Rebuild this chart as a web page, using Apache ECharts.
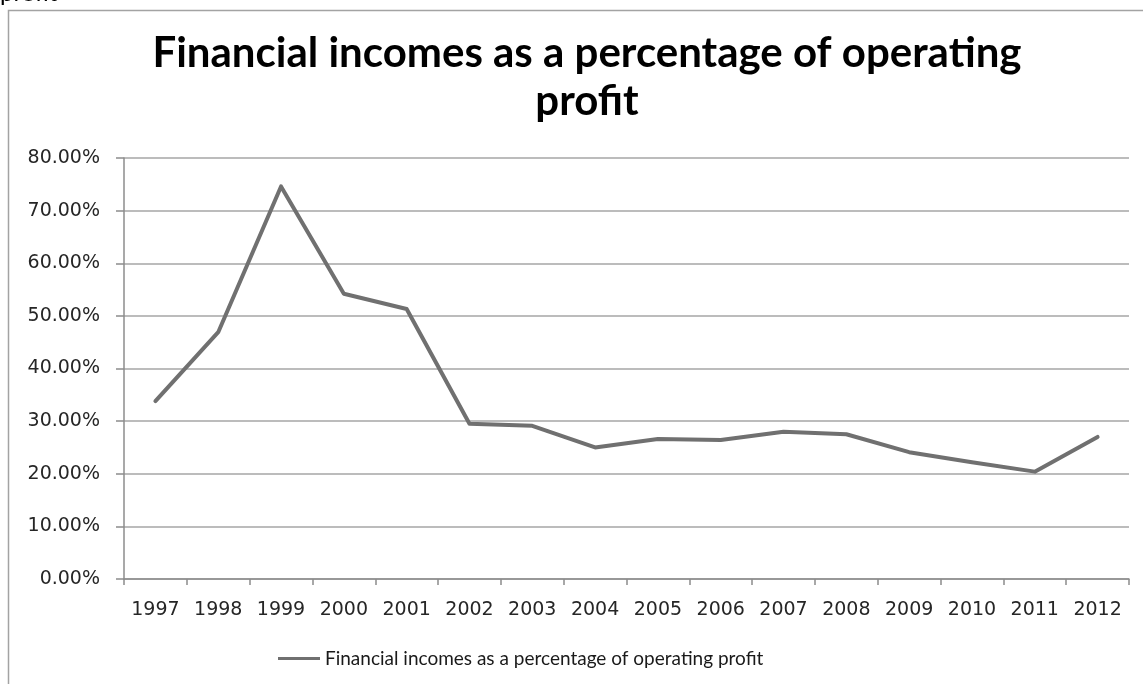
<!DOCTYPE html>
<html>
<head>
<meta charset="utf-8">
<title>Financial incomes as a percentage of operating profit</title>
<script src="https://cdn.jsdelivr.net/npm/echarts@6/dist/echarts.min.js"></script>
<style>
  html, body { margin: 0; padding: 0; background: #ffffff; }
  #chart { width: 1143px; height: 684px; }
</style>
</head>
<body>
<div id="chart"></div>
<script>
// Years on the category axis
const years = ['1997', '1998', '1999', '2000', '2001', '2002', '2003', '2004',
               '2005', '2006', '2007', '2008', '2009', '2010', '2011', '2012'];

// Financial incomes as a share of operating profit, in percent
const financialIncomeShare = [33.8, 46.9, 74.6, 54.2, 51.3, 29.5, 29.1, 25.0,
                              26.6, 26.4, 28.0, 27.5, 24.1, 22.2, 20.4, 27.0];

// Value axis range and step, in percent
const yMin = 0;
const yMax = 80;
const yStep = 10;

const seriesName = 'Financial incomes as a percentage of operating profit';
const titleText = 'Financial incomes as a percentage of operating\nprofit';

const chart = echarts.init(document.getElementById('chart'), null, { renderer: 'canvas' });

chart.setOption({
  backgroundColor: '#ffffff',
  animation: false,
  title: {
    text: titleText,
    left: 582,
    top: 24,
    textAlign: 'center',
    textStyle: {
      fontFamily: 'Lato',
      fontWeight: 'bold',
      fontSize: 42,
      lineHeight: 48,
      color: '#000000'
    }
  },
  graphic: [
    {
      // frame of the chart box
      type: 'rect',
      shape: { x: 8.5, y: 10.5, width: 2000, height: 2000 },
      style: { fill: 'none', stroke: '#a3a3a3', lineWidth: 1.5 },
      silent: true
    },
    {
      // tail of the surrounding page text above the chart box
      type: 'text',
      left: 0,
      top: -19,
      style: {
        text: 'profit',
        font: '24px Lato',
        fill: '#000000'
      },
      silent: true
    }
  ],
  legend: {
    left: 273,
    top: 644,
    itemWidth: 42,
    itemHeight: 14,
    icon: 'path://M0,6 L42,6 L42,9 L0,9 Z',
    textStyle: {
      fontFamily: 'Lato',
      fontSize: 19,
      color: '#1a1a1a'
    },
    data: [seriesName]
  },
  grid: {
    left: 124,
    right: 14,
    top: 158,
    bottom: 105,
    containLabel: false
  },
  xAxis: {
    type: 'category',
    data: years,
    boundaryGap: true,
    axisLine: { show: true, lineStyle: { color: '#8c8c8c', width: 1.5 } },
    axisTick: { show: true, length: 6, lineStyle: { color: '#8c8c8c', width: 1.5 } },
    axisLabel: {
      margin: 22,
      fontFamily: 'DejaVu Sans',
      fontSize: 19,
      color: '#262626',
      interval: 0
    },
    splitLine: { show: false }
  },
  yAxis: {
    type: 'value',
    min: yMin,
    max: yMax,
    interval: yStep,
    axisLine: { show: true, lineStyle: { color: '#8c8c8c', width: 1.5 } },
    axisTick: { show: true, length: 8, lineStyle: { color: '#8c8c8c', width: 1.5 } },
    axisLabel: {
      margin: 24,
      fontFamily: 'DejaVu Sans',
      fontSize: 19,
      color: '#262626',
      formatter: v => v.toFixed(2) + '%'
    },
    splitLine: { show: true, lineStyle: { color: '#a6a6a6', width: 1.5 } }
  },
  series: [
    {
      name: seriesName,
      type: 'line',
      data: financialIncomeShare,
      symbol: 'none',
      smooth: false,
      lineStyle: { color: '#707070', width: 4, cap: 'round', join: 'round' },
      itemStyle: { color: '#707070' }
    }
  ]
});
</script>
</body>
</html>
